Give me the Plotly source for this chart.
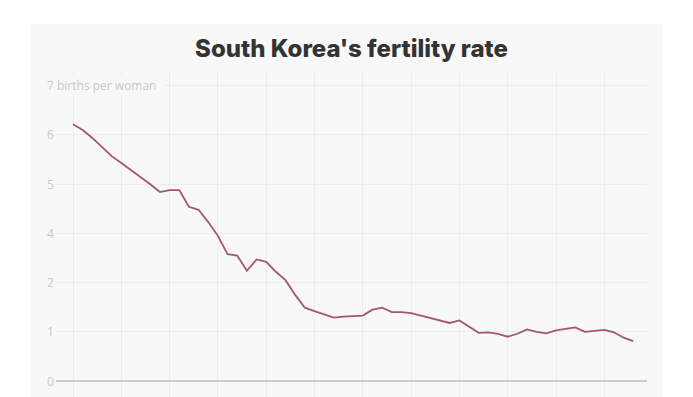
import plotly.graph_objects as go

years = list(range(1960, 2019))
# values in the chart's own gridline units (gridlines labelled 0,1,2,4,5,6,7)
rate = [5.22, 5.10, 4.94, 4.76, 4.57, 4.43, 4.29, 4.15, 4.00, 3.84,
        3.88, 3.88, 3.54, 3.48, 3.23, 2.95, 2.58, 2.55, 2.24, 2.47,
        2.42, 2.22, 2.05, 1.75, 1.49, 1.42, 1.36, 1.29, 1.31, 1.32,
        1.33, 1.45, 1.49, 1.40, 1.40, 1.38, 1.33, 1.27, 1.22, 1.18,
        1.23, 1.10, 0.98, 0.99, 0.96, 0.90, 0.96, 1.05, 1.00, 0.97,
        1.03, 1.06, 1.09, 1.00, 1.02, 1.04, 0.99, 0.88, 0.81]
y_tick_pos = [0, 1, 2, 3, 4, 5, 6]
y_tick_text = ["0", "1", "2", "4", "5", "6", "7 births per woman"]
x_ticks = list(range(1960, 2020, 5))

W, H = 693, 397
L, R, T, B = 56, 46, 72, 0
pw, ph = W - L - R, H - T - B
PANEL = "#f8f8f8"

fig = go.Figure()
fig.add_trace(go.Scatter(x=years, y=rate, mode="lines",
                         line=dict(color="#a35676", width=1.8), hoverinfo="skip"))

def px_x(p):
    return (p - L) / pw

def px_y(p):
    return (H - B - p) / ph

fig.add_shape(type="rect", xref="paper", yref="paper",
              x0=px_x(30), x1=px_x(662), y0=px_y(400), y1=px_y(24),
              fillcolor=PANEL, line=dict(width=0), layer="below")

annotations = []
for pos, txt in zip(y_tick_pos, y_tick_text):
    annotations.append(dict(x=px_x(44), y=pos, xref="paper", yref="y",
                            text=txt + ("  " if pos == 6 else ""), showarrow=False,
                            xanchor="left", yanchor="middle",
                            font=dict(family="Open Sans", size=12, color="#c8c8c8"),
                            bgcolor=PANEL if pos == 6 else None, borderpad=2))
fig.update_layout(annotations=annotations)

fig.update_layout(
    width=W, height=H,
    margin=dict(l=L, r=R, t=T, b=B),
    paper_bgcolor="white", plot_bgcolor="rgba(0,0,0,0)",
    showlegend=False,
    title=dict(text="South Korea's fertility rate", x=0.5, xref="paper",
               xanchor="center", y=1 - 49 / H, yref="container", yanchor="middle",
               font=dict(family="Inter", size=24, weight=800, color="#333333")),
    xaxis=dict(range=[1958.24, 2019.42], tickvals=x_ticks, showticklabels=False,
               showgrid=True, gridcolor="#ececec", gridwidth=1, zeroline=False,
               showline=False, ticks=""),
    yaxis=dict(range=[-0.325, 6.28], tickvals=y_tick_pos, showticklabels=False,
               showgrid=True, gridcolor="#ececec", gridwidth=1,
               zeroline=True, zerolinecolor="#cccccc", zerolinewidth=1.5,
               showline=False, ticks=""),
)

fig.write_html("out.html", config={"displayModeBar": False},
               post_script="document.body.style.margin='0px';document.body.style.overflow='hidden';")
